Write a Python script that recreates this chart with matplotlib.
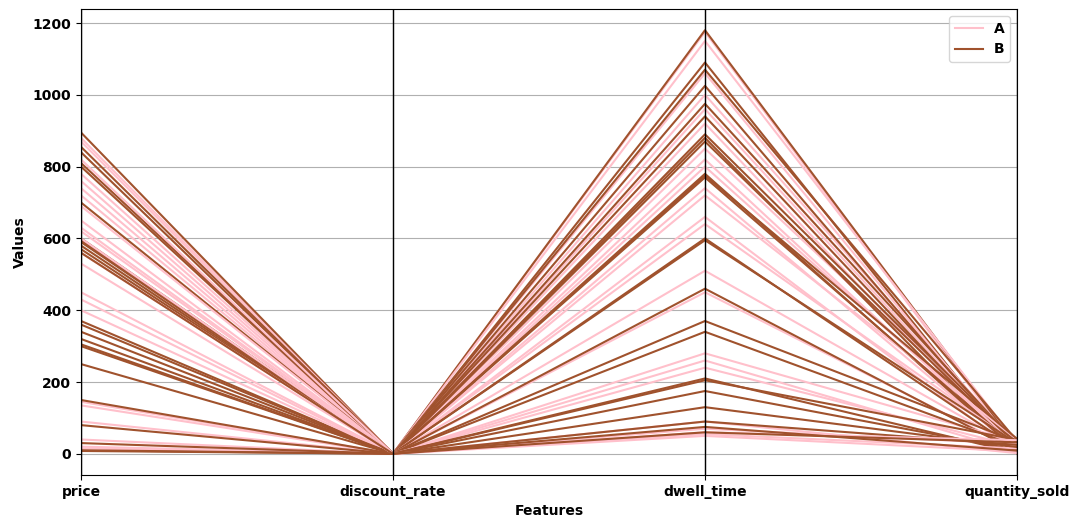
import matplotlib
matplotlib.use("Agg")
import matplotlib.pyplot as plt
import pandas as pd
from pandas.plotting import parallel_coordinates

# Data (class A = pink, class B = sienna)
price_a = [880, 870, 780, 760, 740, 720, 690, 650, 630, 620, 530, 450,
           430, 400, 145, 135, 90, 40, 20, 15, 600, 560, 820]
discount_a = [0.1, 0.3, 0.2, 0.4, 0.1, 0.2, 0.3, 0.5, 0.1, 0.2, 0.4, 0.3,
              0.2, 0.1, 0.3, 0.2, 0.4, 0.1, 0.5, 0.2, 0.3, 0.1, 0.2]
dwell_a = [1175, 1150, 1060, 1000, 960, 920, 850, 820, 800, 740, 720, 660,
           640, 510, 450, 280, 260, 240, 90, 70, 55, 50, 60]
qty_a = [12, 30, 8, 25, 18, 5, 35, 14, 22, 9, 40, 3,
         27, 16, 11, 33, 6, 20, 2, 28, 15, 7, 38]

price_b = [895, 855, 840, 810, 800, 700, 600, 595, 590, 580, 570, 370,
           360, 340, 320, 305, 300, 250, 150, 80, 30, 10, 8, 560]
discount_b = [0.2, 0.1, 0.4, 0.3, 0.2, 0.5, 0.1, 0.3, 0.2, 0.4, 0.1, 0.3,
              0.2, 0.5, 0.1, 0.2, 0.3, 0.4, 0.1, 0.2, 0.3, 0.1, 0.4, 0.2]
dwell_b = [1180, 1090, 1070, 1025, 975, 940, 890, 880, 870, 780, 775, 770,
           600, 595, 460, 370, 340, 210, 205, 175, 130, 90, 75, 60]
qty_b = [20, 4, 36, 10, 26, 15, 31, 1, 24, 8, 42, 17,
         13, 29, 6, 34, 21, 3, 39, 11, 19, 25, 9, 32]

rows = []
for i in range(max(len(price_a), len(price_b))):
    if i < len(price_a):
        rows.append(["A", price_a[i], discount_a[i], dwell_a[i], qty_a[i]])
    if i < len(price_b):
        rows.append(["B", price_b[i], discount_b[i], dwell_b[i], qty_b[i]])
df = pd.DataFrame(rows, columns=["class", "price", "discount_rate",
                                 "dwell_time", "quantity_sold"])

plt.rcParams["font.weight"] = "bold"
plt.rcParams["axes.labelweight"] = "bold"

fig = plt.figure(figsize=(10.73, 5.21), dpi=100)
ax = fig.add_axes([0.0755, 0.0883, 0.8723, 0.8944])

parallel_coordinates(df, "class", color=["pink", "sienna"], ax=ax)

ax.set_xlabel("Features")
ax.set_ylabel("Values")
ax.legend(loc="upper right")

plt.savefig("out.png", dpi=100)
